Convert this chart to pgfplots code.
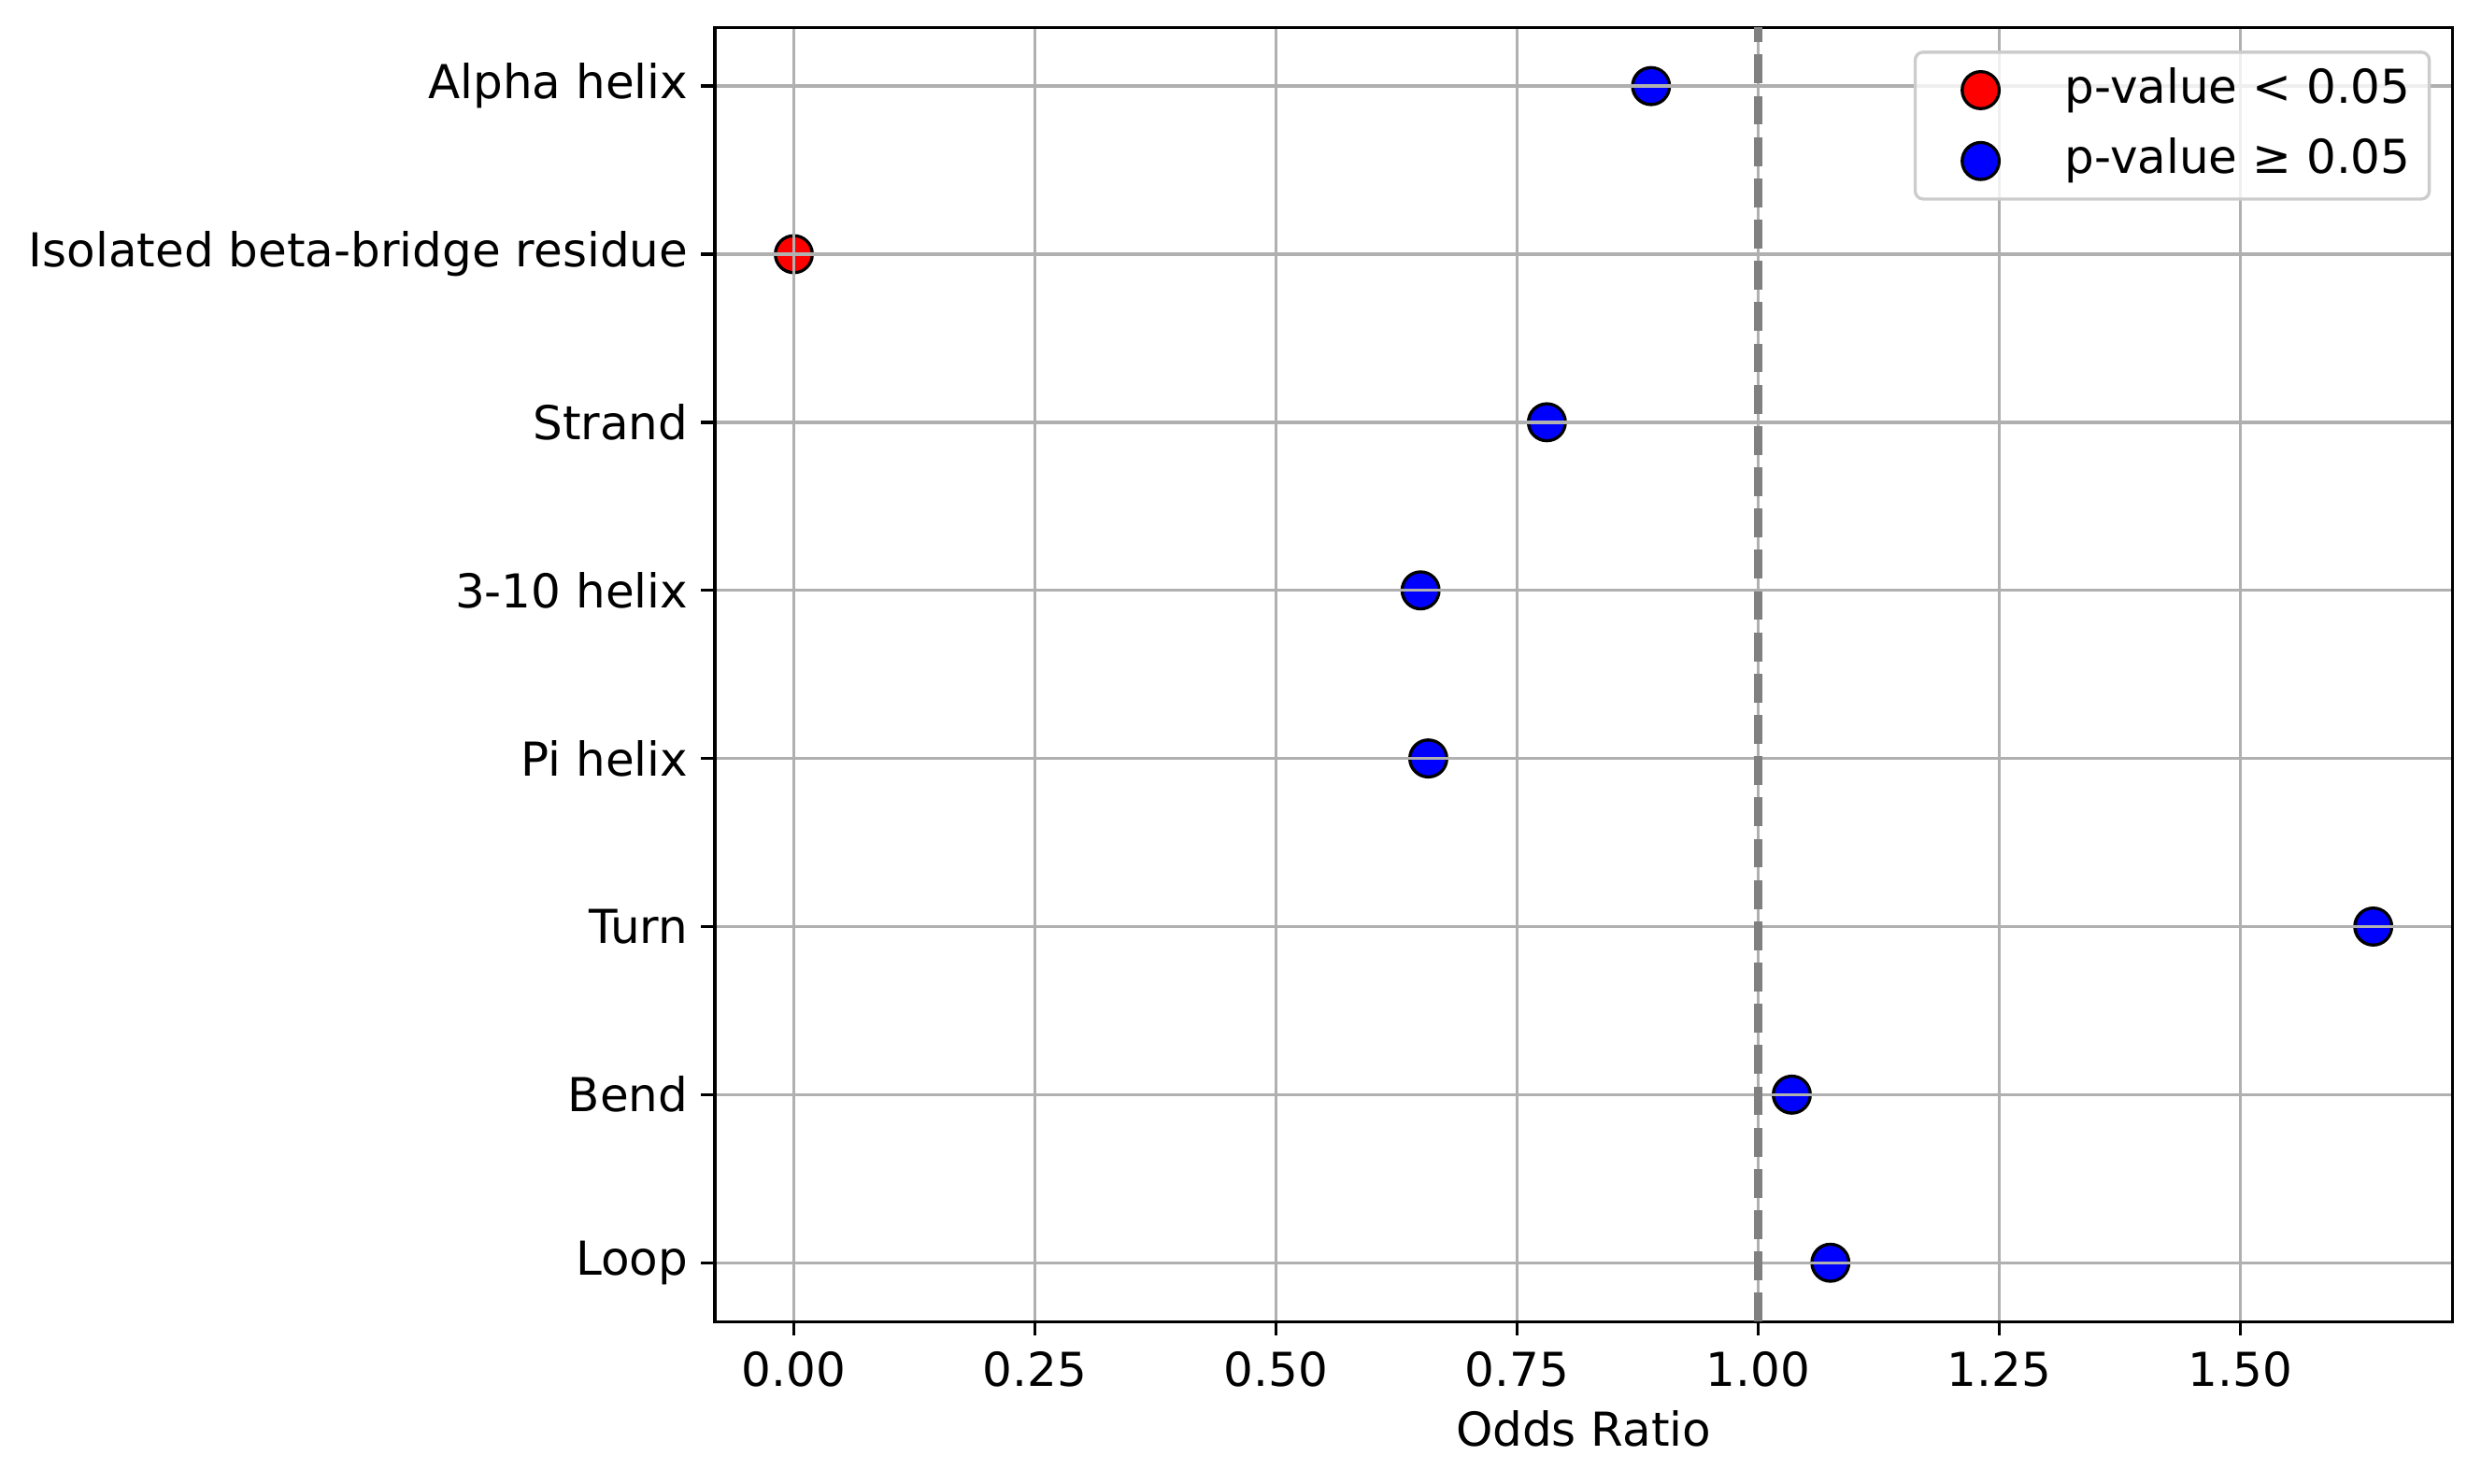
\documentclass[border=0pt]{standalone}
\usepackage{fontspec}
\setmainfont{DejaVu Sans}
\usepackage{pgfplots}
\pgfplotsset{compat=1.18}
\definecolor{gridgray}{HTML}{B0B0B0}
\definecolor{leggray}{HTML}{CCCCCC}
\begin{document}
\fontsize{12}{14.4}\selectfont
\begin{tikzpicture}
\begin{axis}[
  name=ax,
  scale only axis, width=446.2pt, height=332.4pt,
  xmin=-0.0819, xmax=1.7199, ymin=-0.35, ymax=7.35,
  xtick={0,0.25,0.5,0.75,1,1.25,1.5},
  xticklabel={\pgfmathprintnumber[fixed,fixed zerofill,precision=2]{\tick}},
  /pgf/number format/assume math mode=true,
  ytick={0,1,2,3,4,5,6,7},
  yticklabels={Loop,Bend,Turn,Pi helix,3-10 helix,Strand,Isolated beta-bridge residue,Alpha helix},
  yticklabel style={xshift=0.8pt},
  grid=major, major grid style={gridgray, line width=0.8pt},
  tick align=outside, tick pos=left, major tick length=3.5pt,
  tick style={black, line width=0.8pt},
  axis line style={line width=0.8pt},
  set layers=axis on top,
  xlabel={Odds Ratio},
  xlabel style={at={(axis description cs:0.5,0)}, anchor=base, yshift=-32pt},
  legend style={at={(axis description cs:1,1)}, anchor=north east, xshift=-5.5pt, yshift=-6pt,
    draw=leggray, line width=0.8pt, rounded corners=2pt, fill=white, fill opacity=0.8, text opacity=1,
    inner xsep=4.8pt, inner ysep=4pt, row sep=6.7pt, column sep=9.6pt,
    nodes={inner sep=0pt, text height=9pt, text depth=2.5pt}},
  legend cell align=left,
  legend image code/.code={\path[draw=none,fill=none] (0pt,0pt) -- (24pt,0pt);
    \path[#1,fill opacity=1,draw opacity=1] plot coordinates {(12pt,0pt)};},
]
\addplot[only marks, mark=*, mark size=4.75pt, mark options={fill=red, draw=black, line width=0.8pt}]
  coordinates {(0.0,6)};
\addlegendentry{p-value < 0.05}
\addplot[only marks, mark=*, mark size=4.75pt, mark options={fill=blue, draw=black, line width=0.8pt}]
  coordinates {(0.889,7) (0.781,5) (0.650,4) (0.658,3) (1.638,2) (1.035,1) (1.075,0)};
\addlegendentry{p-value ≥ 0.05}
\addplot[gray, line width=2pt, dash pattern=on 7.4pt off 3.2pt, on layer=axis foreground, forget plot]
  coordinates {(1,-0.35) (1,7.35)};
\end{axis}
\pgfresetboundingbox
\useasboundingbox ([xshift=-183.6pt,yshift=-41.5pt]ax.south west) rectangle ([xshift=7.4pt,yshift=7pt]ax.north east);
\end{tikzpicture}
\end{document}
